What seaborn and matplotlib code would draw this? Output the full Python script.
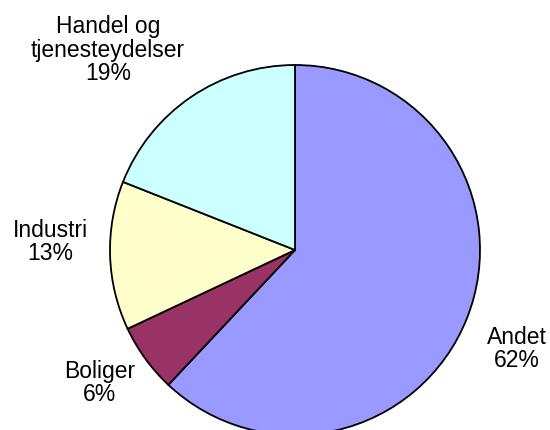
import matplotlib
matplotlib.use("Agg")
import matplotlib.pyplot as plt
import seaborn as sns

categories = ["Andet", "Boliger", "Industri", "Handel og\ntjenesteydelser"]
shares = [62, 6, 13, 19]
colors = ["#9999FF", "#993366", "#FFFFCC", "#CCFFFF"]


def main():
    sns.set_theme(style="white")
    plt.rcParams["font.family"] = ["Liberation Sans", "DejaVu Sans"]

    fig = plt.figure(figsize=(5.5, 4.3), dpi=100)
    ax = fig.add_axes([0, 0, 1, 1])

    ax.pie(
        shares,
        colors=colors,
        startangle=90,
        counterclock=False,
        center=(295, 180),
        radius=185,
        wedgeprops={"edgecolor": "black", "linewidth": 1.3},
        frame=True,
    )
    ax.set_xlim(0, 550)
    ax.set_ylim(0, 430)
    ax.set_aspect("equal")
    ax.axis("off")

    # label positions in pixel coords (y up)
    label_pos = [(517, 81), (100, 47), (50, 188), (108, 380)]
    for name, val, (x, y) in zip(categories, shares, label_pos):
        ax.text(x, y, f"{name}\n{val}%", ha="center", va="center",
                fontsize=16.5, linespacing=1.03, color="black")

    fig.savefig("out.png", dpi=100)
    plt.close(fig)


if __name__ == "__main__":
    main()
